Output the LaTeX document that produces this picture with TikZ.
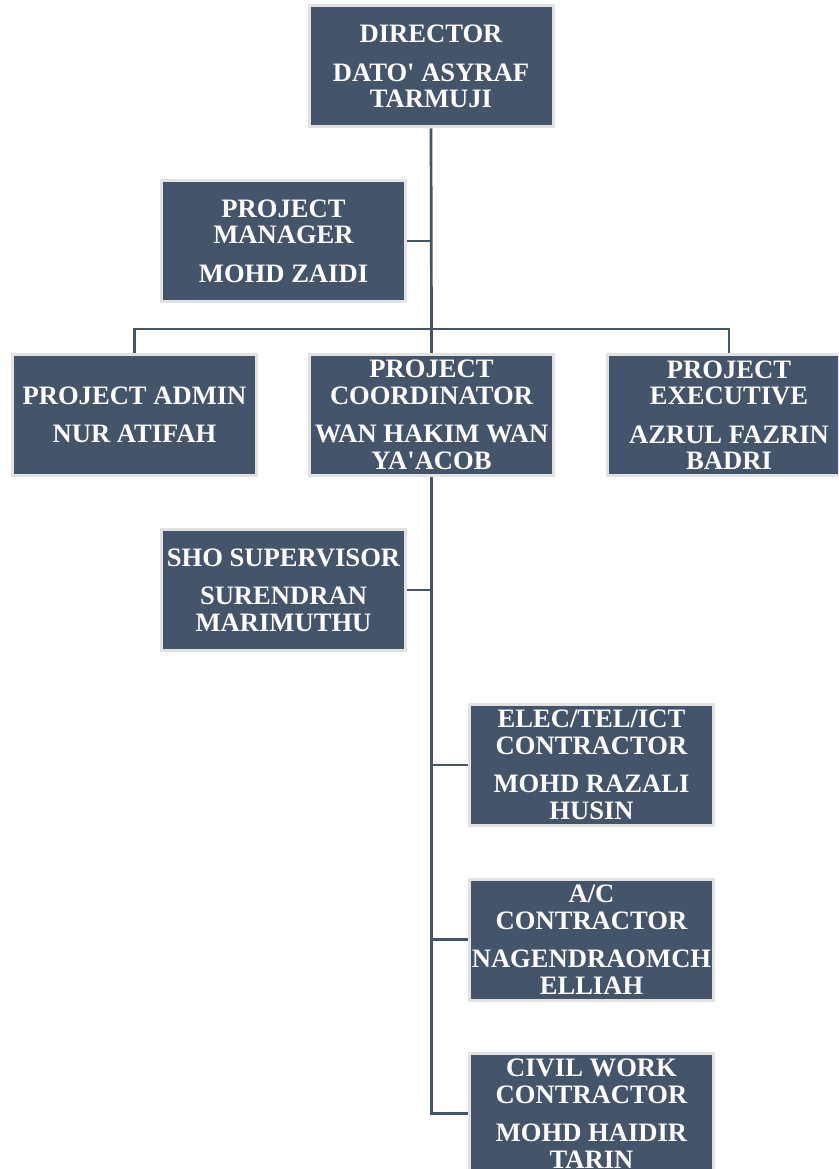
\documentclass[tikz,border=0pt]{standalone}
\usepackage{fontspec}
\setmainfont{Liberation Serif}[Ligatures=TeXOff]
\definecolor{boxfill}{HTML}{44546A}
\definecolor{boxedge}{HTML}{E2E2E2}
\definecolor{linecol}{HTML}{44546A}
\begin{document}
\begin{tikzpicture}[x=1pt,y=-1pt,
  orgbox/.style={rectangle, fill=boxfill, draw=boxedge, line width=3pt,
    minimum width=244pt, minimum height=121pt, inner sep=0pt,
    align=center, text=white,
    font=\fontsize{26.6}{26.5}\selectfont\bfseries},
  conn/.style={draw=linecol, line width=2.7pt}]
\useasboundingbox (0,0) rectangle (838,1169);
\clip (0,0) rectangle (838,1169);
\node[orgbox] (dir) at (431,66.5) {DIRECTOR\\[12pt]DATO' ASYRAF\\TARMUJI};
\node[orgbox] (pm) at (283.5,241) {PROJECT\\MANAGER\\[12pt]MOHD ZAIDI};
\node[orgbox] (admin) at (134.5,415) {PROJECT ADMIN\\[12pt]NUR ATIFAH};
\node[orgbox] (coord) at (431.5,415) {PROJECT\\COORDINATOR\\[12pt]WAN HAKIM WAN\\YA'ACOB};
\node[orgbox] (exec) at (729,415) {PROJECT\\EXECUTIVE\\[12pt]AZRUL FAZRIN\\BADRI};
\node[orgbox] (sho) at (283.5,590) {SHO SUPERVISOR\\[12pt]SURENDRAN\\MARIMUTHU};
\node[orgbox] (elec) at (591.5,765) {ELEC/TEL/ICT\\CONTRACTOR\\[12pt]MOHD RAZALI\\HUSIN};
\node[orgbox] (ac) at (591.5,939.5) {A/C\\CONTRACTOR\\[12pt]NAGENDRAOMCH\\ELLIAH};
\node[orgbox] (civil) at (591.5,1113.5) {CIVIL WORK\\CONTRACTOR\\[12pt]MOHD HAIDIR\\TARIN};
\coordinate (bus) at (431.5,329);
\draw[conn] (dir.south) -- (bus);
\draw[conn] (pm.east) -- (pm.east -| bus);
\draw[conn] (admin.north) |- (bus) -| (exec.north);
\draw[conn] (bus) -- (coord.north);
\draw[conn] (coord.south) |- (civil.west);
\draw[conn] (sho.east) -- (sho.east -| coord.south);
\draw[conn] (elec.west) -- (elec.west -| coord.south);
\draw[conn] (ac.west) -- (ac.west -| coord.south);
\end{tikzpicture}
\end{document}
